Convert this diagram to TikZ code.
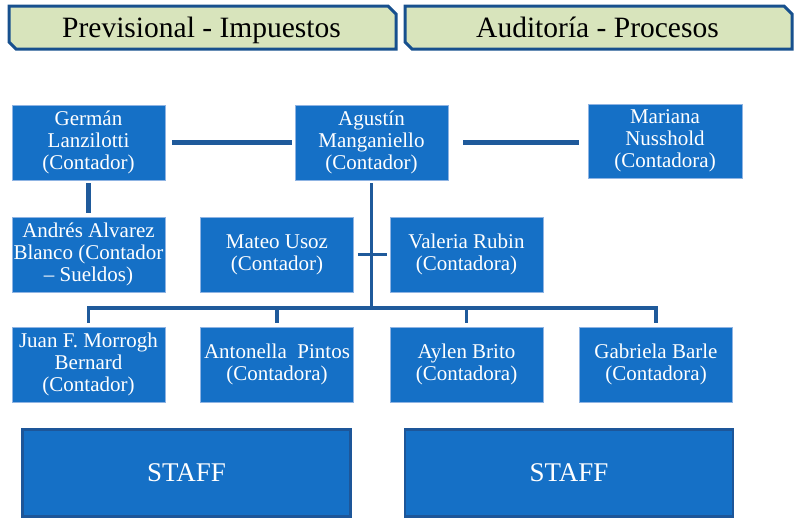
\documentclass[tikz,border=0pt]{standalone}
\usepackage{fontspec}
\setmainfont{Liberation Serif}
\usetikzlibrary{calc}
\definecolor{boxblue}{HTML}{1570C6}
\definecolor{boxedge}{HTML}{8FB4E3}
\definecolor{linkblue}{HTML}{1F5A9B}
\definecolor{staffedge}{HTML}{1D5699}
\definecolor{bannerfill}{HTML}{D8E4BC}
\definecolor{banneredge}{HTML}{17508E}
\tikzset{
  person/.style={draw=boxedge, line width=0.8pt, fill=boxblue, text=white,
    minimum width=153pt, minimum height=75pt, inner sep=0pt, align=center,
    font=\fontsize{21}{22}\selectfont},
  staffbox/.style={draw=staffedge, line width=2.5pt, fill=boxblue, text=white,
    minimum width=328pt, minimum height=87pt, inner sep=0pt,
    font=\fontsize{27}{30}\selectfont},
  banner/.style={draw=banneredge, line width=3pt, fill=bannerfill, line join=miter},
  bannertext/.style={font=\fontsize{29.5}{30}\selectfont, text=black, inner sep=0pt, anchor=base},
  link/.style={draw=linkblue, line width=4.5pt},
  thinlink/.style={draw=linkblue, line width=3.2pt},
}
\begin{document}
\begin{tikzpicture}[x=1pt,y=-1pt]
\useasboundingbox (0,0) rectangle (796,528);
\fill[white] (0,0) rectangle (796,528);
% banners
\draw[banner] (9,6) -- (388,6) -- (396,14) -- (396,49) -- (16,49) -- (9,42) -- cycle;
\node[bannertext] (b1) at (201.5,37) {Previsional - Impuestos};
\draw[banner] (405,6) -- (784,6) -- (792,14) -- (792,49) -- (412,49) -- (405,42) -- cycle;
\node[bannertext] (b2) at (597.5,37) {Auditoría - Procesos};
% people
\node[person] (ger) at (88.5,142.5) {Germán\\Lanzilotti\\(Contador)};
\node[person] (agu) at (371.5,142.5) {Agustín\\Manganiello\\(Contador)};
\node[person, minimum width=154pt, minimum height=74pt] (mar) at (665,141) {Mariana\\Nusshold\\(Contadora)};
\node[person] (and) at (88.5,254.5) {Andrés Alvarez\\Blanco (Contador\\– Sueldos)};
\node[person] (mat) at (277,254.5) {Mateo Usoz\\(Contador)};
\node[person] (val) at (466.5,254.5) {Valeria Rubin\\(Contadora)};
\node[person] (jua) at (88.5,364.5) {Juan F. Morrogh\\Bernard\\(Contador)};
\node[person] (ant) at (277,364.5) {Antonella~~Pintos\\(Contadora)};
\node[person] (ayl) at (466.5,364.5) {Aylen Brito\\(Contadora)};
\node[person] (gab) at (656,364.5) {Gabriela Barle\\(Contadora)};
% staff
\node[staffbox] (st1) at (186.5,473) {STAFF};
\node[staffbox] (st2) at (569,473) {STAFF};
% connectors
\draw[link, shorten <=7pt, shorten >=3pt] (ger.east) -- (agu.west);
\draw[link, shorten <=15pt, shorten >=9pt] (agu.east) -- (agu.east -| mar.west);
\draw[link, shorten <=3pt, shorten >=4pt] (ger.south) -- (and.north);
\coordinate (bus) at (371.5,308);
\draw[thinlink, shorten <=3pt] (agu.south) -- (bus);
\draw[thinlink, shorten <=4pt] (jua.north) |- (bus);
\draw[thinlink, shorten <=4pt] (ant.north) |- (bus);
\draw[thinlink, shorten <=4pt] (ayl.north) |- (bus);
\draw[thinlink, shorten <=4pt] (gab.north) |- (bus);
\draw[thinlink, shorten <=4pt, shorten >=3pt] (mat.east) -- (val.west);
\end{tikzpicture}
\end{document}
